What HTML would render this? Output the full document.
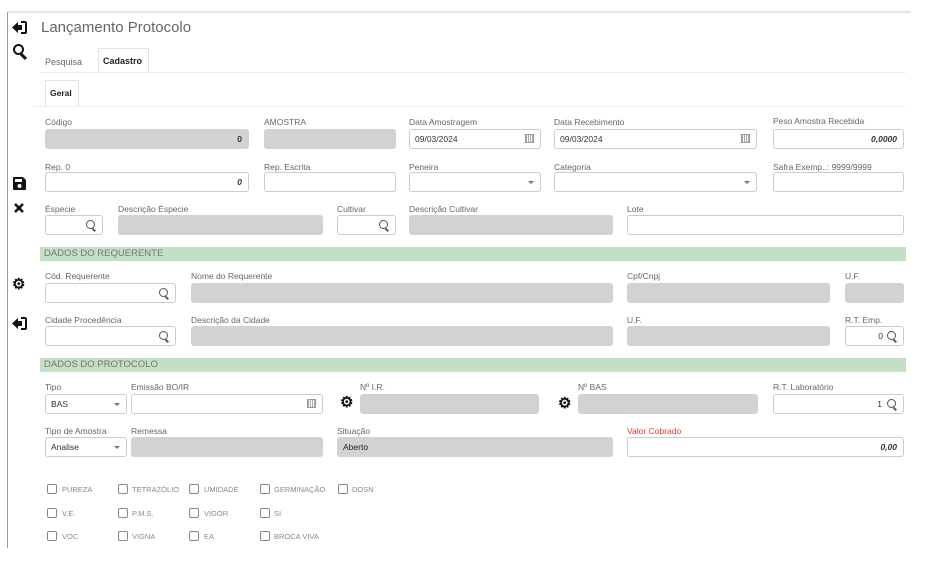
<!DOCTYPE html>
<html><head><meta charset="utf-8"><style>
*{box-sizing:border-box;margin:0;padding:0}
body{width:927px;height:563px;background:#fff;position:relative;overflow:hidden;font-family:"Liberation Sans",sans-serif;color:#555}
div,span,svg{position:absolute}
.l{font-size:8.5px;color:#666;white-space:nowrap}
.i{border:1px solid #ccc;border-radius:3px;background:#fff;height:20px;font-size:8.5px;color:#333;line-height:18px}
.g{background:#d2d2d2;border-color:#d2d2d2}
.r{text-align:right;padding-right:6px;font-style:italic;font-weight:bold}
.v{padding-left:5px}
.bar{left:40px;width:866px;height:14px;background:#c3dfc5;font-size:9.5px;color:#777;line-height:14px;padding-left:4px}
.ic{font-size:15px;color:#111;font-weight:bold}
.cb{width:10px;height:10px;border:1px solid #888;border-radius:2px}
.ct{font-size:7.5px;color:#888}
.mag{width:9px;height:9px;border:1.6px solid #555;border-radius:50%}
.mag:after{content:"";position:absolute;width:4px;height:1.6px;background:#555;transform:rotate(45deg);left:5px;top:8px}
.cal{width:9px;height:9px;border:1px solid #999;background:repeating-linear-gradient(90deg,#aaa 0 1px,#fff 1px 2px)}
.dd{width:0;height:0;border-left:3px solid transparent;border-right:3px solid transparent;border-top:3px solid #777}
</style></head><body>
<div style="left:7px;top:11px;width:904px;height:2px;background:#e6e6e6"></div>
<div style="left:7px;top:12px;width:1px;height:536px;background:#999"></div>

<svg style="left:12px;top:21px" width="15" height="13" viewBox="0 0 15 13"><path d="M0 6.5 L6 1 V4 H10 V9 H6 V12 Z" fill="#111"/><path d="M9 1 H13 Q14 1 14 2 V11 Q14 12 13 12 H9" fill="none" stroke="#111" stroke-width="2"/></svg>
<div style="left:41px;top:19px;font-size:15px;color:#666">Lançamento Protocolo</div>
<div style="left:13px;top:44px;width:11px;height:11px;border:2.5px solid #111;border-radius:50%"></div>
<div style="left:20px;top:55px;width:7px;height:3px;background:#111;transform:rotate(45deg)"></div>

<div style="left:45px;top:57px;font-size:9px;color:#666">Pesquisa</div>
<div style="left:98px;top:48px;width:51px;height:25px;border:1px solid #e2e2e2;border-bottom:none;background:#fff"></div>
<div style="left:103px;top:56px;font-size:9px;color:#222;font-weight:bold">Cadastro</div>
<div style="left:40px;top:72px;width:866px;height:1px;background:#eee"></div>
<div style="left:45px;top:80px;width:34px;height:27px;border:1px solid #e2e2e2;border-bottom:none"></div>
<div style="left:50px;top:88px;font-size:8.5px;color:#222;font-weight:bold">Geral</div>
<div style="left:32px;top:106px;width:874px;height:1px;background:#eee"></div>

<div class="l" style="left:45px;top:117px">Código</div>
<div class="l" style="left:264px;top:117px">AMOSTRA</div>
<div class="l" style="left:409px;top:117px">Data Amostragem</div>
<div class="l" style="left:554px;top:117px">Data Recebimento</div>
<div class="l" style="left:773px;top:116px">Peso Amostra Recebida</div>
<div class="i g r" style="left:45px;top:129px;width:204px;font-style:normal">0</div>
<div class="i g" style="left:264px;top:129px;width:132px"></div>
<div class="i v" style="left:409px;top:129px;width:132px">09/03/2024<span class="cal" style="right:6px;top:4px"></span></div>
<div class="i v" style="left:554px;top:129px;width:203px">09/03/2024<span class="cal" style="right:6px;top:4px"></span></div>
<div class="i r" style="left:773px;top:129px;width:131px">0,0000</div>

<svg style="left:13px;top:177px" width="13" height="13" viewBox="0 0 13 13"><path d="M0 1 Q0 0 1 0 H10 L13 3 V12 Q13 13 12 13 H1 Q0 13 0 12 Z" fill="#111"/><rect x="2" y="2" width="7" height="3" fill="#fff"/><circle cx="6.5" cy="9" r="2" fill="#fff"/></svg>
<div class="l" style="left:45px;top:162px">Rep. 0</div>
<div class="l" style="left:264px;top:162px">Rep. Escrita</div>
<div class="l" style="left:409px;top:162px">Peneira</div>
<div class="l" style="left:554px;top:162px">Categoria</div>
<div class="l" style="left:773px;top:162px">Safra Exemp..: 9999/9999</div>
<div class="i r" style="left:45px;top:172px;width:204px">0</div>
<div class="i" style="left:264px;top:172px;width:132px"></div>
<div class="i" style="left:409px;top:172px;width:132px"><span class="dd" style="right:6px;top:8px"></span></div>
<div class="i" style="left:554px;top:172px;width:203px"><span class="dd" style="right:6px;top:8px"></span></div>
<div class="i" style="left:773px;top:172px;width:131px"></div>

<svg style="left:14px;top:203px" width="10" height="10" viewBox="0 0 10 10"><path d="M1 1 L9 9 M9 1 L1 9" stroke="#111" stroke-width="2.6"/></svg>
<div class="l" style="left:45px;top:204px">Éspecie</div>
<div class="l" style="left:118px;top:204px">Descrição Éspecie</div>
<div class="l" style="left:337px;top:204px">Cultivar</div>
<div class="l" style="left:409px;top:204px">Descrição Cultivar</div>
<div class="l" style="left:627px;top:204px">Lote</div>
<div class="i" style="left:45px;top:215px;width:58px"><span class="mag" style="right:7px;top:4px"></span></div>
<div class="i g" style="left:118px;top:215px;width:205px"></div>
<div class="i" style="left:337px;top:215px;width:59px"><span class="mag" style="right:7px;top:4px"></span></div>
<div class="i g" style="left:409px;top:215px;width:204px"></div>
<div class="i" style="left:627px;top:215px;width:277px"></div>

<div class="bar" style="top:247px">DADOS DO REQUERENTE</div>

<div class="ic" style="left:12px;top:275px">⚙</div>
<div class="l" style="left:45px;top:271px">Cód. Requerente</div>
<div class="l" style="left:191px;top:271px">Nome do Requerente</div>
<div class="l" style="left:627px;top:271px">Cpf/Cnpj</div>
<div class="l" style="left:845px;top:271px">U.F.</div>
<div class="i" style="left:45px;top:283px;width:131px"><span class="mag" style="right:7px;top:4px"></span></div>
<div class="i g" style="left:191px;top:283px;width:422px"></div>
<div class="i g" style="left:627px;top:283px;width:203px"></div>
<div class="i g" style="left:845px;top:283px;width:59px"></div>

<svg style="left:12px;top:317px" width="15" height="13" viewBox="0 0 15 13"><path d="M0 6.5 L6 1 V4 H10 V9 H6 V12 Z" fill="#111"/><path d="M9 1 H13 Q14 1 14 2 V11 Q14 12 13 12 H9" fill="none" stroke="#111" stroke-width="2"/></svg>
<div class="l" style="left:45px;top:315px">Cidade Procedência</div>
<div class="l" style="left:191px;top:315px">Descrição da Cidade</div>
<div class="l" style="left:627px;top:315px">U.F.</div>
<div class="l" style="left:845px;top:315px">R.T. Emp.</div>
<div class="i" style="left:45px;top:326px;width:131px"><span class="mag" style="right:7px;top:4px"></span></div>
<div class="i g" style="left:191px;top:326px;width:422px"></div>
<div class="i g" style="left:627px;top:326px;width:203px"></div>
<div class="i" style="left:845px;top:326px;width:59px"><span style="right:20px;top:0">0</span><span class="mag" style="right:7px;top:4px"></span></div>

<div class="bar" style="top:358px">DADOS DO PROTOCOLO</div>

<div class="l" style="left:45px;top:382px">Tipo</div>
<div class="l" style="left:131px;top:382px">Emissão BO/IR</div>
<div class="l" style="left:360px;top:382px">Nº I.R.</div>
<div class="l" style="left:578px;top:382px">Nº BAS</div>
<div class="l" style="left:773px;top:382px">R.T. Laboratório</div>
<div class="i v" style="left:45px;top:394px;width:82px">BAS<span class="dd" style="right:6px;top:8px"></span></div>
<div class="i" style="left:131px;top:394px;width:192px"><span class="cal" style="right:6px;top:4px"></span></div>
<div class="ic" style="left:340px;top:393px">⚙</div>
<div class="i g" style="left:360px;top:394px;width:179px"></div>
<div class="ic" style="left:558px;top:394px">⚙</div>
<div class="i g" style="left:578px;top:394px;width:180px"></div>
<div class="i" style="left:773px;top:394px;width:131px"><span style="right:21px;top:0">1</span><span class="mag" style="right:7px;top:4px"></span></div>

<div class="l" style="left:45px;top:426px">Tipo de Amostra</div>
<div class="l" style="left:131px;top:426px">Remessa</div>
<div class="l" style="left:337px;top:426px">Situação</div>
<div class="l" style="left:627px;top:426px;color:#e33">Valor Cobrado</div>
<div class="i v" style="left:45px;top:437px;width:82px">Analise<span class="dd" style="right:6px;top:8px"></span></div>
<div class="i g" style="left:131px;top:437px;width:192px"></div>
<div class="i g v" style="left:337px;top:437px;width:276px;color:#222">Aberto</div>
<div class="i r" style="left:627px;top:437px;width:277px">0,00</div>

<div class="cb" style="left:47px;top:484px"></div><div class="ct" style="left:62px;top:485px">PUREZA</div>
<div class="cb" style="left:118px;top:484px"></div><div class="ct" style="left:132px;top:485px">TETRAZÓLIO</div>
<div class="cb" style="left:189px;top:484px"></div><div class="ct" style="left:204px;top:485px">UMIDADE</div>
<div class="cb" style="left:260px;top:484px"></div><div class="ct" style="left:274px;top:485px">GERMINAÇÃO</div>
<div class="cb" style="left:338px;top:484px"></div><div class="ct" style="left:352px;top:485px">DOSN</div>
<div class="cb" style="left:47px;top:508px"></div><div class="ct" style="left:62px;top:509px">V.E.</div>
<div class="cb" style="left:118px;top:508px"></div><div class="ct" style="left:132px;top:509px">P.M.S.</div>
<div class="cb" style="left:189px;top:508px"></div><div class="ct" style="left:204px;top:509px">VIGOR</div>
<div class="cb" style="left:260px;top:508px"></div><div class="ct" style="left:274px;top:509px">SI</div>
<div class="cb" style="left:47px;top:531px"></div><div class="ct" style="left:62px;top:532px">VOC</div>
<div class="cb" style="left:118px;top:531px"></div><div class="ct" style="left:132px;top:532px">VIGNA</div>
<div class="cb" style="left:189px;top:531px"></div><div class="ct" style="left:204px;top:532px">EA</div>
<div class="cb" style="left:260px;top:531px"></div><div class="ct" style="left:274px;top:532px">BROCA VIVA</div>
</body></html>
